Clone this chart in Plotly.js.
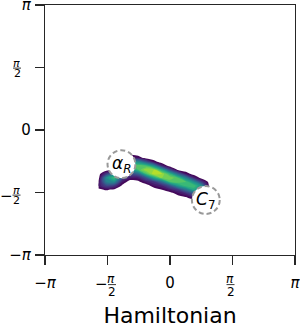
<!DOCTYPE html>
<html>
<head>
<meta charset="utf-8">
<script src="https://cdn.plot.ly/plotly-3.0.1.min.js"></script>
<style>html,body{margin:0;padding:0;background:#fff;}</style>
</head>
<body>
<div id="chart" style="width:300px;height:328px;"></div>
<script>
// Grid of dihedral angles (radians)
const gridX = [-1.8,-1.6,-1.4,-1.2,-1.0,-0.8,-0.6,-0.4,-0.2,0,0.2,0.4,0.6,0.8,1.0];
const gridY = [-2.0,-1.9,-1.8,-1.7,-1.6,-1.5,-1.4,-1.3,-1.2,-1.1,-1.0,-0.9,-0.8,-0.7,-0.6,-0.5];
// Density values (rows follow gridY)
const density = [
  [0,0,0,0,0,0,0,0,0,0,0,0,0,0,0],
  [0,0,0,0,0,0,0,0,0,0,0,0,0,0,0],
  [0,0,0,0,0,0,0,0,0,0,0,0,0,0.8,0],
  [0,0,0,0,0,0,0,0,0,0,0,0.3,1.2,2,0],
  [0,0,0,0,0,0,0,0,0,0,0.8,1.5,3,4,1],
  [0.3,0.6,0.3,0,0,0,0,0,0.5,1.2,2,4,6,5.5,1],
  [1,2.5,2,0.3,0,0,0,1,1.5,3,5.5,7,7,5,0],
  [0.6,4.5,5,1.2,0,0.3,1.2,2,4,7,7.5,7,5,2,0],
  [0,5,7,2.5,1.2,1.2,3,6,8,8,7,4.5,1.5,0,0],
  [0,2,4,1.5,2.5,3.5,7,9,8.5,6.5,3.5,1,0,0,0],
  [0,0,0,0,5,7,8.5,8.5,6,2.5,0.3,0,0,0,0],
  [0,0,0,0,6.5,7.5,7,5,1.5,0,0,0,0,0,0],
  [0,0,0,0,5,5,3,0.8,0,0,0,0,0,0,0],
  [0,0,0,0,1.5,1,0,0,0,0,0,0,0,0,0],
  [0,0,0,0,0,0,0,0,0,0,0,0,0,0,0],
  [0,0,0,0,0,0,0,0,0,0,0,0,0,0,0]
];
// Labelled states
const stateLabels = ['<i>α</i><sub><i>R</i></sub>', '<i>C</i><sub>7</sub>'];
const stateX = [-1.22, 0.90];
const stateY = [-0.86, -1.76];
const stateR = [0.35, 0.35];
// Ticks
const PI = Math.PI;
const tickVals = [-PI, 0, PI];
const tickText = ['−<i>π</i>', '0', '<i>π</i>'];
const fracVals = [-PI/2, PI/2];
const fracSign = ['−', ''];
const xTitle = 'Hamiltonian';

const viridis = ['#440154','#482878','#3e4989','#31688e','#26828e','#1f9e89','#35b779','#6ece58','#b5de2b','#fde725'];
const cs = [[0,'#ffffff'],[0.03,'#ffffff']];
viridis.forEach((c,i)=>{ cs.push([0.031 + (1-0.031)*i/(viridis.length-1), c]); });

const trace = {
  type: 'contour',
  x: gridX, y: gridY, z: density,
  zmin: 0, zmax: 10,
  colorscale: cs,
  showscale: false,
  contours: {coloring: 'fill', start: 0.5, end: 9.5, size: 0.5, showlines: false},
  line: {width: 0, smoothing: 0.8},
  hoverinfo: 'skip'
};

const FONT = 'DejaVu Sans';
const ink = '#000';
// pixel helpers (plot area: x 45..295, y 5..255)
const px2paperX = p => (p - 45) / 250;
const px2paperY = p => (255 - p) / 250;

const shapes = stateX.map((x,i)=>({
  type:'circle', xref:'x', yref:'y',
  x0: x - stateR[i], x1: x + stateR[i],
  y0: stateY[i] - stateR[i], y1: stateY[i] + stateR[i],
  line:{color:'#999999', width:2, dash:'5px,3px'},
  fillcolor:'#ffffff', layer:'above'
}));
const annotations = stateX.map((x,i)=>({
  x: x, y: stateY[i], xref:'x', yref:'y', text: stateLabels[i],
  showarrow:false, font:{family:FONT, size:17, color:ink}
}));

// Fraction tick labels (π/2): offsets in px relative to the tick
const xFrac = [
  {minus:-6.3, mY:284.3, piX:3.5, piY:278.7, twoX:4.6, twoY:291.5, barX0:0.5, barX1:8.5, barY:284.6},
  {minus:0, mY:0, piX:-2.2, piY:278.7, twoX:-2, twoY:291.5, barX0:-6, barX1:2, barY:284.6}
];
const yFrac = [
  {mX:6, mShift:-3.2, piX:16, piShift:2.3, twoX:16.5, twoShift:-7.5, barX0:12.5, barX1:20.5, barShift:-2.6},
  {mX:0, mShift:0, piX:16.8, piShift:4.5, twoX:17.2, twoShift:-5.6, barX0:13, barX1:21, barShift:-0.6}
];
const fracFont = {family:FONT, size:12, color:ink};
const yFracFont = {family:FONT, size:11, color:ink};
fracVals.forEach((v,i)=>{
  const f = xFrac[i];
  if (fracSign[i]) annotations.push({xref:'x', x:v, xshift:f.minus, yref:'paper', y:px2paperY(f.mY), text:'−', showarrow:false, font:{family:FONT, size:15, color:ink}, yanchor:'middle'});
  annotations.push({xref:'x', x:v, xshift:f.piX, yref:'paper', y:px2paperY(f.piY), text:'<i>π</i>', showarrow:false, font:fracFont, yanchor:'middle', height:10});
  annotations.push({xref:'x', x:v, xshift:f.twoX, yref:'paper', y:px2paperY(f.twoY), text:'2', showarrow:false, font:fracFont, yanchor:'middle', height:12});
  shapes.push({type:'line', xref:'x', xsizemode:'pixel', xanchor:v, x0:f.barX0, x1:f.barX1, yref:'paper', y0:px2paperY(f.barY), y1:px2paperY(f.barY), line:{color:ink, width:0.8}});
  const g = yFrac[i];
  if (fracSign[i]) annotations.push({xref:'paper', x:px2paperX(g.mX), yref:'y', y:v, yshift:g.mShift, text:'−', showarrow:false, font:{family:FONT, size:15, color:ink}, xanchor:'center', yanchor:'middle'});
  annotations.push({xref:'paper', x:px2paperX(g.piX), yref:'y', y:v, yshift:g.piShift, text:'<i>π</i>', showarrow:false, font:yFracFont, xanchor:'center', yanchor:'middle', height:7});
  annotations.push({xref:'paper', x:px2paperX(g.twoX), yref:'y', y:v, yshift:g.twoShift, text:'2', showarrow:false, font:yFracFont, xanchor:'center', yanchor:'middle', height:9});
  shapes.push({type:'line', xref:'paper', x0:px2paperX(g.barX0), x1:px2paperX(g.barX1), yref:'y', ysizemode:'pixel', yanchor:v, y0:g.barShift, y1:g.barShift, line:{color:ink, width:0.8}});
});

const axisCommon = {
  range: [-PI, PI], tickmode:'array', tickvals: tickVals, ticktext: tickText,
  ticks:'outside', ticklen:9, tickwidth:1.2, tickcolor:'#262626',
  minor:{tickmode:'array', tickvals: fracVals, ticks:'outside', ticklen:9, tickwidth:1.2, tickcolor:'#262626', showgrid:false},
  showline:true, linecolor:'#262626', linewidth:1.2, mirror:true,
  showgrid:false, zeroline:false,
  tickfont:{family:FONT, size:15, color:ink},
  ticklabeloverflow:'allow',
  ticklabelstandoff: 5
};

const layout = {
  width:300, height:328,
  margin:{l:45, r:5, t:5, b:73},
  paper_bgcolor:'#fff', plot_bgcolor:'#fff',
  xaxis: Object.assign({}, axisCommon, {title:{text:xTitle, font:{family:FONT, size:22, color:ink}, standoff:21}}),
  yaxis: Object.assign({}, axisCommon, {ticklabelstandoff: 1}),
  shapes: shapes, annotations: annotations,
  showlegend:false
};

Plotly.newPlot('chart', [trace], layout, {staticPlot:true, displayModeBar:false});
</script>
</body>
</html>
